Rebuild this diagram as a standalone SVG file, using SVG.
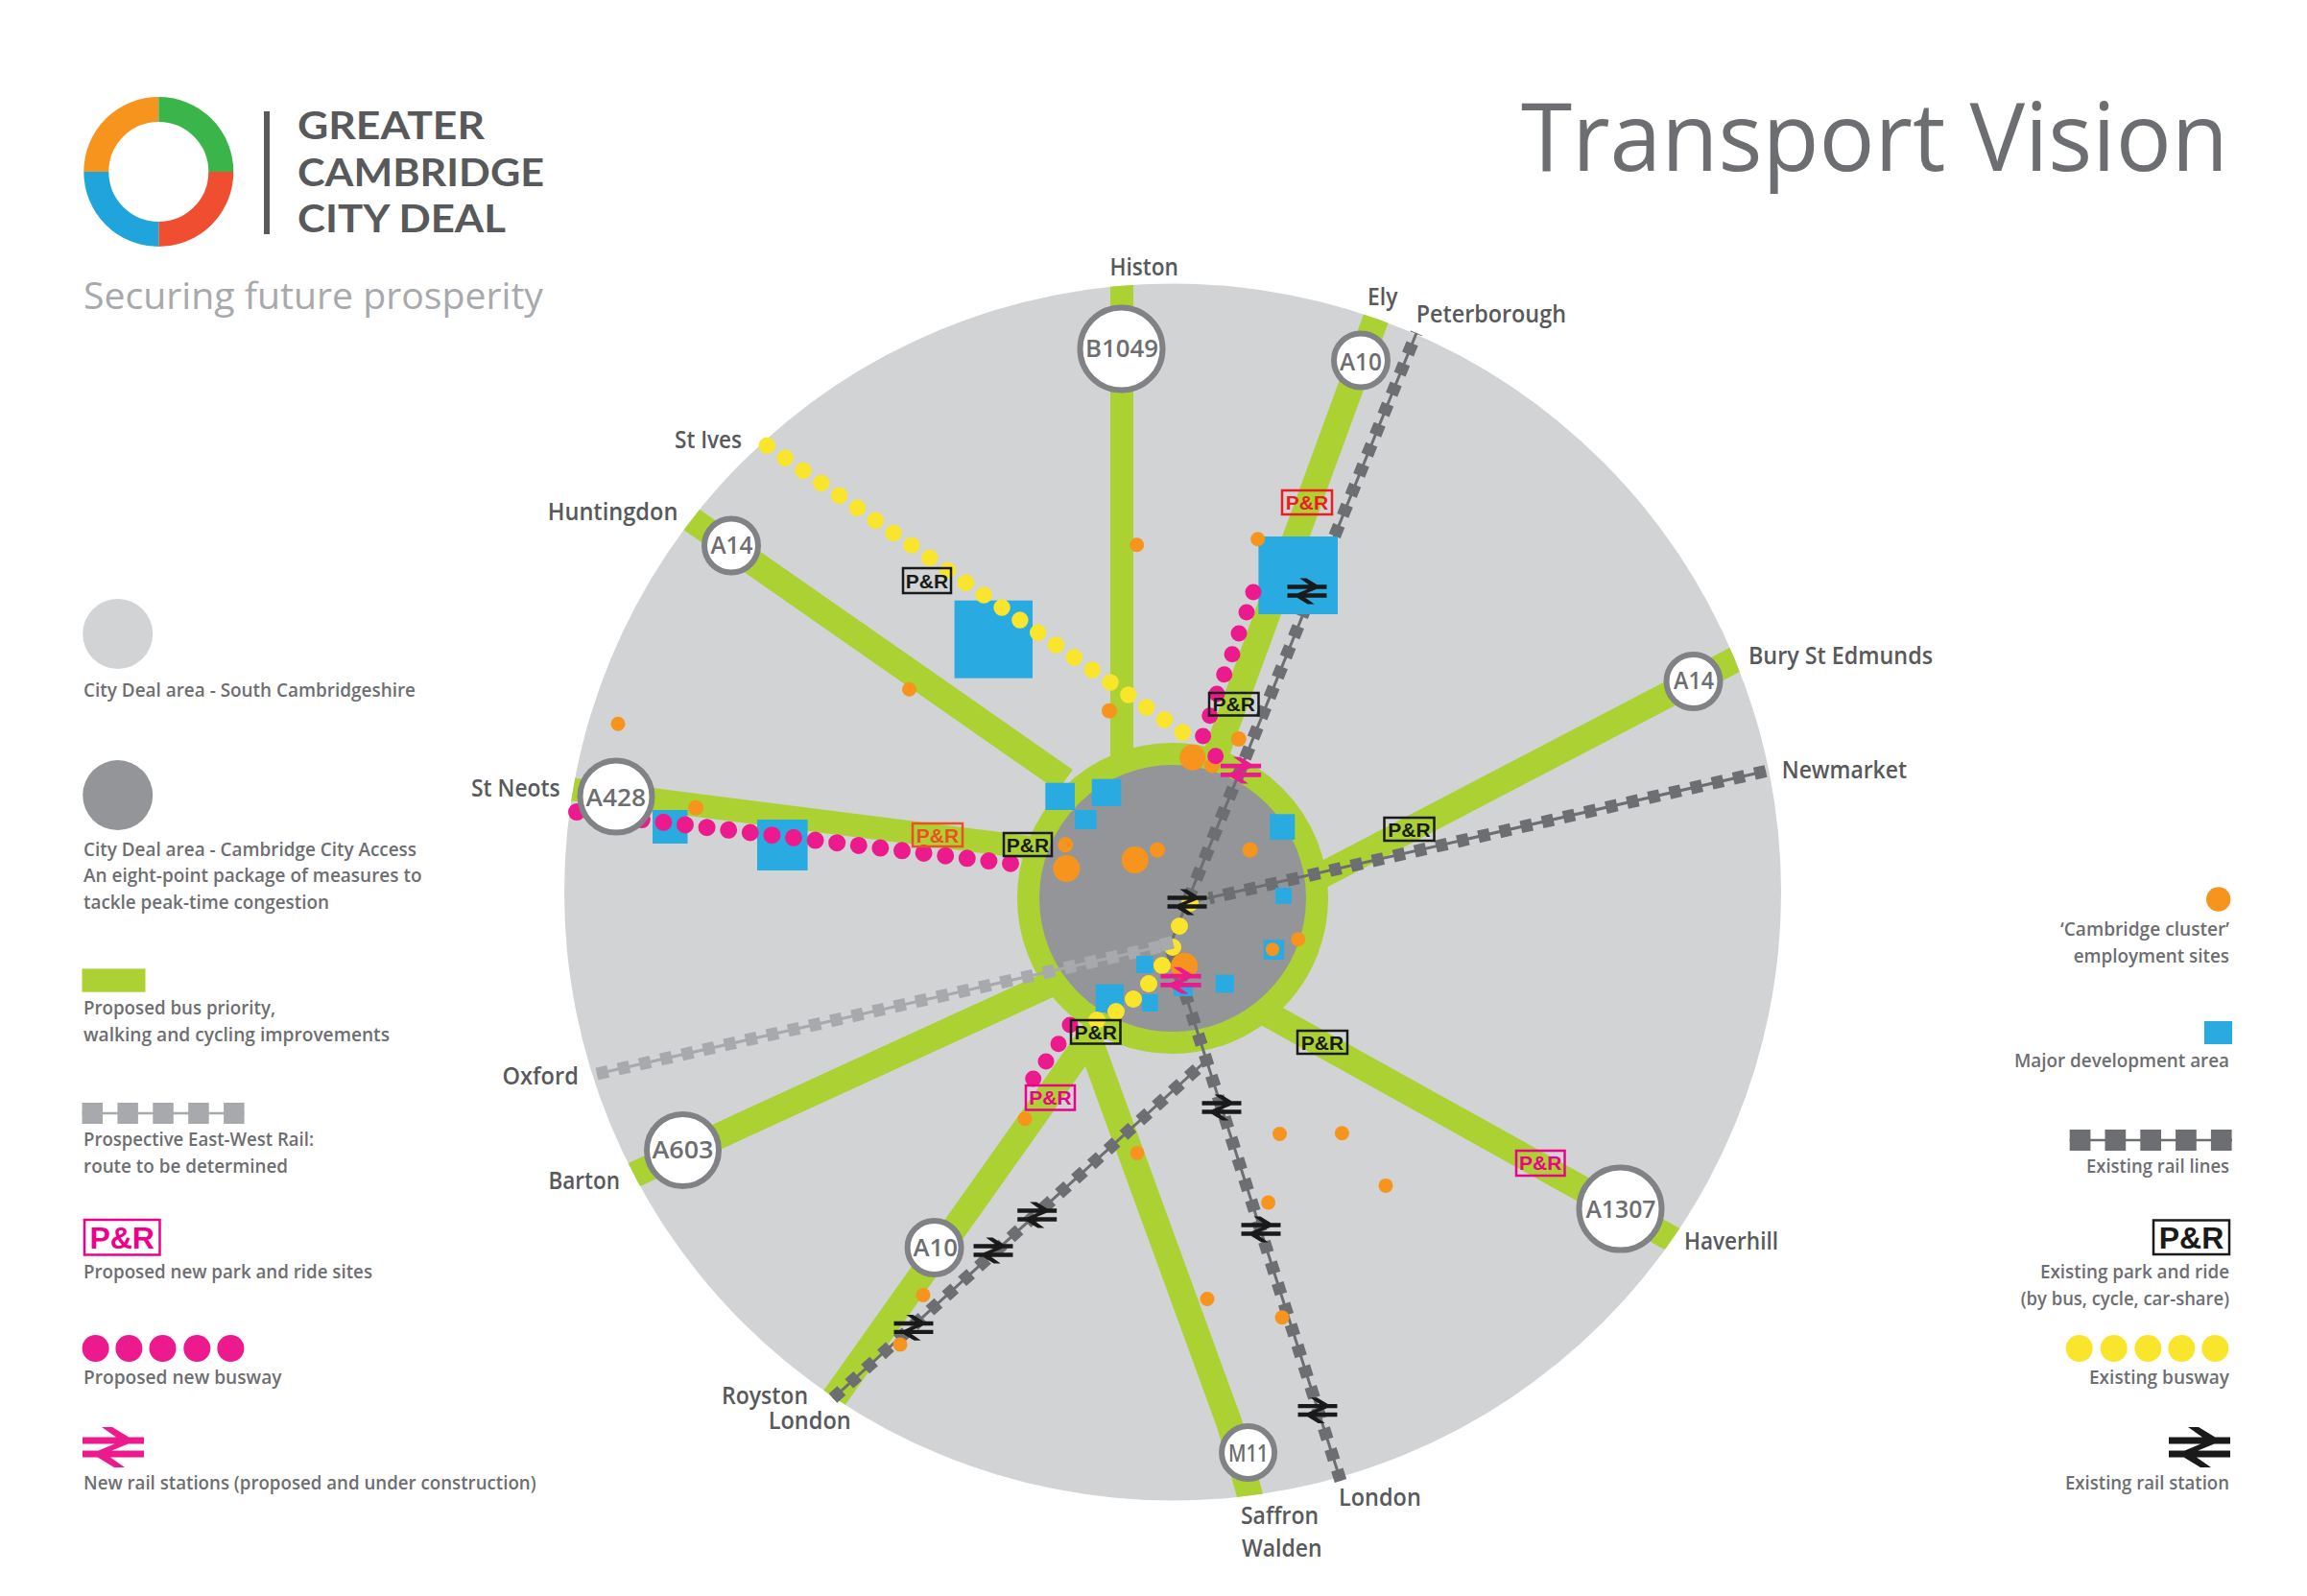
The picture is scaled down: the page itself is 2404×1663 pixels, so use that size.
<svg xmlns="http://www.w3.org/2000/svg" width="2404" height="1663" viewBox="0 0 2404 1663">
<style>
text{font-family:"Open Sans","Liberation Sans",sans-serif}
.l{font-size:25px;font-weight:600;fill:#58595b}
.k{font-size:20.5px;font-weight:600;fill:#6d6e71}
.rt{font-size:25px;font-weight:600;fill:#6d6e71}
.lg{font-family:Lato,"Open Sans",sans-serif;font-size:40px;font-weight:700;fill:#58595b}
.sp{fill:none;stroke:#abd133;stroke-width:27}
.sv{fill:none;stroke:#abd133;stroke-width:24}
.rl{fill:none;stroke:#6d6e71;stroke-width:3}
.rd{fill:none;stroke:#6d6e71;stroke-width:13;stroke-dasharray:12 10.7}
.ol{fill:none;stroke:#a7a9ac;stroke-width:3}
.od{fill:none;stroke:#a7a9ac;stroke-width:13;stroke-dasharray:12 10.7}
.yb{fill:none;stroke:#f9e62c;stroke-width:17.5;stroke-linecap:round;stroke-dasharray:0 22.87}
.pb{fill:none;stroke:#ec1a8d;stroke-width:18;stroke-linecap:round;stroke-dasharray:0 22.76}
.y{fill:#f9e62c}.p{fill:#ec1a8d}.o{fill:#f7941e}.b{fill:#29abe2}
.road{fill:#fff;stroke:#808285;stroke-width:6}
.pr{fill:none;stroke-width:2.5}
.prt{font-family:"Liberation Sans",Arial,sans-serif;font-size:21px;font-weight:700;text-anchor:middle}
.prl{font-family:"Liberation Sans",Arial,sans-serif;font-size:32px;font-weight:700;text-anchor:middle}
.bk rect{stroke:#1a1a1a}.bk text{fill:#1a1a1a}
.rd2 rect{stroke:#ed1c24}.rd2 text{fill:#ed1c24}
.or rect{stroke:#f04e23}.or text{fill:#f04e23}
.pk rect{stroke:#ec008c}.pk text{fill:#ec008c}
</style>
<defs>
<clipPath id="rim"><circle cx="1222" cy="929.5" r="634"/></clipPath>
<path id="br" d="M-32-10.5H32V-3.5H-32ZM-32 3.5H32V10.5H-32ZM-12-21H-1L22-7H8ZM10-7H24L-10 7H-24ZM-22 7H-8L12 21H1Z"/>
</defs>
<rect width="2404" height="1663" fill="#fff"/>

<g id="logo">
<path d="M165.3 114A65 65 0 0 0 100.3 179" fill="none" stroke="#f7941e" stroke-width="26"/>
<path d="M165.3 114A65 65 0 0 1 230.3 179" fill="none" stroke="#39b54a" stroke-width="26"/>
<path d="M230.3 179A65 65 0 0 1 165.3 244" fill="none" stroke="#f04e30" stroke-width="26"/>
<path d="M165.3 244A65 65 0 0 1 100.3 179" fill="none" stroke="#1fa5dc" stroke-width="26"/>
<rect x="275" y="116" width="6" height="128" fill="#58595b"/>
<text class="lg" x="310" y="145" textLength="195" lengthAdjust="spacingAndGlyphs">GREATER</text>
<text class="lg" x="310" y="194" textLength="257" lengthAdjust="spacingAndGlyphs">CAMBRIDGE</text>
<text class="lg" x="310" y="242" textLength="217" lengthAdjust="spacingAndGlyphs">CITY DEAL</text>
<text x="87" y="322" font-size="39" fill="#a7a9ac" textLength="479" lengthAdjust="spacingAndGlyphs">Securing future prosperity</text>
</g>
<text id="title" x="1585" y="178" font-size="98" font-weight="500" fill="#6d6e71" textLength="737" lengthAdjust="spacingAndGlyphs">Transport Vision</text>

<circle id="area-south" cx="1222" cy="929.5" r="634" fill="#d1d3d4"/>

<g id="connectors">
<g id="bus-priority" clip-path="url(#rim)">
<path class="sv" d="M1169 290V805"/>
<path class="sp" d="M1440 315L1262 800"/>
<path class="sp" d="M710 534L1110 813"/>
<path class="sv" d="M585 821L1095 886"/>
<path class="sp" d="M650 1229L1115 1016"/>
<path class="sp" d="M862 1467L1140 1075"/>
<path class="sp" d="M1306 1570L1281 1483L1134 1080"/>
<path class="sp" d="M1755 1298L1300 1045"/>
<path class="sp" d="M1820 681L1370 916"/>
</g>
<circle id="ring" cx="1222" cy="936" r="150.5" fill="#939598" stroke="#abd133" stroke-width="23"/>
<g id="rail-existing">
<path class="rl" d="M1476 347L1237 940L1219 985L1397 1543"/>
<path class="rd" style="stroke-dashoffset:-11.7" d="M1476 347L1237 940"/>
<path class="rd" d="M1397 1543L1219 985"/>
<path class="rl" d="M1840 803.5L1240 940"/>
<path class="rd" d="M1840 803.5L1260 936"/>
<path class="rl" d="M868 1457L1257 1105"/>
<path class="rd" d="M868 1457L1257 1105"/>
</g>
<g id="rail-east-west">
<path class="ol" d="M622 1119L1219 984"/>
<path class="od" d="M622 1119L1219 984"/>
</g>
</g>

<g id="development-areas">
<rect class="b" x="994.6" y="625.7" width="81.4" height="81"/>
<rect class="b" x="1311.4" y="559" width="82.6" height="81"/>
<rect class="b" x="680" y="844" width="36.5" height="35"/>
<rect class="b" x="789" y="854" width="52.6" height="53"/>
<rect class="b" x="1089.3" y="815.7" width="30.7" height="28.3"/>
<rect class="b" x="1137.7" y="811.7" width="30.6" height="28.3"/>
<rect class="b" x="1120" y="844" width="22.7" height="20"/>
<rect class="b" x="1323.3" y="848.3" width="26" height="26.7"/>
<rect class="b" x="1329" y="925" width="17" height="16.7"/>
<rect class="b" x="1184" y="996" width="17.7" height="18"/>
<rect class="b" x="1141.7" y="1025.7" width="29.3" height="29.3"/>
<rect class="b" x="1190" y="1036" width="16.7" height="18"/>
<rect class="b" x="1223" y="1025" width="20" height="13"/>
<rect class="b" x="1266.7" y="1015.7" width="19.3" height="18.6"/>
<rect class="b" x="1316.7" y="979.3" width="21.6" height="20.7"/>
</g>

<g id="employment-sites" class="o">
<circle cx="1156" cy="740.7" r="8"/><circle cx="1242.7" cy="789.3" r="13.5"/><circle cx="1263" cy="797.7" r="8"/>
<circle cx="1290.7" cy="770" r="8"/><circle cx="1110.3" cy="880.3" r="8"/><circle cx="1111.3" cy="905" r="14"/>
<circle cx="1182.7" cy="896" r="14"/><circle cx="1206" cy="885.7" r="8"/><circle cx="1302.7" cy="885.7" r="8"/>
<circle cx="1326" cy="989.3" r="7"/><circle cx="1352.7" cy="978.7" r="7.5"/><circle cx="1234" cy="1006.7" r="14"/>
<circle cx="947.5" cy="718.3" r="7.5"/><circle cx="644" cy="754.3" r="7.5"/><circle cx="1184.6" cy="567.7" r="7.5"/>
<circle cx="1310.7" cy="561.7" r="7.5"/><circle cx="1068" cy="1165.7" r="7.5"/><circle cx="1185" cy="1201.4" r="7.5"/>
<circle cx="962" cy="1349.4" r="7.5"/><circle cx="938" cy="1401" r="7.5"/><circle cx="1258" cy="1353.5" r="7.5"/>
<circle cx="1333.5" cy="1181.5" r="7.5"/><circle cx="1398.4" cy="1180.8" r="7.5"/><circle cx="1444" cy="1235.4" r="7.5"/>
<circle cx="1321.6" cy="1253" r="7.5"/><circle cx="1336" cy="1372.7" r="7.5"/><circle cx="725" cy="841.7" r="8"/>
</g>

<g id="busways">
<path class="yb" d="M799.3 464.3L1245 771.7"/>
<g class="y">
<circle cx="1240" cy="941" r="9"/><circle cx="1229" cy="965" r="9"/><circle cx="1222" cy="987" r="9"/><circle cx="1211" cy="1006" r="9"/>
<circle cx="1197" cy="1025" r="9"/><circle cx="1181" cy="1041" r="9"/><circle cx="1163" cy="1054" r="9"/><circle cx="1143" cy="1063" r="9"/>
</g>
<rect x="1209" y="976.5" width="13.5" height="13.5" fill="#a7a9ac" transform="rotate(-13 1216 983)"/>
<path class="pb" d="M1053 899.7L599 845.8"/>
<g class="p">
<circle cx="1306" cy="617" r="8.5"/><circle cx="1299" cy="638" r="8.5"/><circle cx="1291" cy="660" r="8.5"/><circle cx="1284" cy="681.7" r="8.5"/>
<circle cx="1275.7" cy="702.7" r="8.5"/><circle cx="1268" cy="723" r="8.5"/><circle cx="1260.7" cy="745.7" r="8.5"/><circle cx="1253.6" cy="767" r="8.5"/>
<circle cx="1266.7" cy="787.7" r="8.5"/>
<circle cx="1115" cy="1068" r="8.5"/><circle cx="1103" cy="1087.7" r="8.5"/><circle cx="1090" cy="1106" r="8.5"/><circle cx="1076.7" cy="1124" r="8.5"/>
</g>
</g>

<g id="stations">
<use href="#br" fill="#ec1a8d" transform="translate(1293 802.7) scale(.66)"/>
<use href="#br" fill="#ec1a8d" transform="translate(1230.5 1021.7) scale(.66)"/>
<use href="#br" fill="#1a1a1a" transform="translate(1237 940) scale(.64)"/>
<use href="#br" fill="#1a1a1a" transform="translate(1362 616) scale(.64)"/>
<use href="#br" fill="#1a1a1a" transform="translate(1273 1154) scale(.64)"/>
<use href="#br" fill="#1a1a1a" transform="translate(1314 1281) scale(.64)"/>
<use href="#br" fill="#1a1a1a" transform="translate(1373 1469.6) scale(.64)"/>
<use href="#br" fill="#1a1a1a" transform="translate(1080.7 1266) scale(.64)"/>
<use href="#br" fill="#1a1a1a" transform="translate(1035 1303) scale(.64)"/>
<use href="#br" fill="#1a1a1a" transform="translate(952 1383.4) scale(.64)"/>
</g>

<g id="pr-1" class="bk"><rect class="pr" x="941" y="592" width="50" height="26"/><text class="prt" x="966" y="612.5">P&amp;R</text></g>
<g id="pr-2" class="rd2"><rect class="pr" x="1336" y="511" width="52" height="25"/><text class="prt" x="1362" y="531">P&amp;R</text></g>
<g id="pr-3" class="bk"><rect class="pr" x="1260" y="722" width="51.5" height="23.5"/><text class="prt" x="1285.7" y="741">P&amp;R</text></g>
<g id="pr-4" class="or"><rect class="pr" x="951" y="858" width="52" height="24"/><text class="prt" x="977" y="877.5">P&amp;R</text></g>
<g id="pr-5" class="bk"><rect class="pr" x="1046" y="868" width="50" height="24"/><text class="prt" x="1071" y="887.5">P&amp;R</text></g>
<g id="pr-6" class="bk"><rect class="pr" x="1442.5" y="852" width="52" height="24"/><text class="prt" x="1468.5" y="871.5">P&amp;R</text></g>
<g id="pr-7" class="bk"><rect class="pr" x="1116" y="1063" width="51.5" height="24.5"/><text class="prt" x="1141.7" y="1082.5">P&amp;R</text></g>
<g id="pr-8" class="pk"><rect class="pr" x="1069" y="1131" width="51" height="25.5"/><text class="prt" x="1094.5" y="1151">P&amp;R</text></g>
<g id="pr-9" class="bk"><rect class="pr" x="1352" y="1074" width="52" height="24"/><text class="prt" x="1378" y="1093.5">P&amp;R</text></g>
<g id="pr-10" class="pk"><rect class="pr" x="1580" y="1199" width="50.5" height="26"/><text class="prt" x="1605.2" y="1219">P&amp;R</text></g>

<g id="road-b1049"><circle class="road" cx="1168.5" cy="363.5" r="43"/><text class="rt" x="1131" y="371.7" textLength="76" lengthAdjust="spacingAndGlyphs">B1049</text></g>
<g id="road-a10-north"><circle class="road" cx="1418" cy="375.5" r="28"/><text class="rt" x="1396" y="385.7" textLength="44" lengthAdjust="spacingAndGlyphs">A10</text></g>
<g id="road-a14-west"><circle class="road" cx="762" cy="568.5" r="28"/><text class="rt" x="740.5" y="577.3" textLength="44" lengthAdjust="spacingAndGlyphs">A14</text></g>
<g id="road-a14-east"><circle class="road" cx="1764.5" cy="710" r="28"/><text class="rt" x="1744" y="718" textLength="42" lengthAdjust="spacingAndGlyphs">A14</text></g>
<g id="road-a428"><circle class="road" cx="642" cy="830" r="37.5"/><text class="rt" x="610.5" y="840" textLength="62.5" lengthAdjust="spacingAndGlyphs">A428</text></g>
<g id="road-a603"><circle class="road" cx="711.5" cy="1198.5" r="37.5"/><text class="rt" x="679.5" y="1206.7" textLength="64" lengthAdjust="spacingAndGlyphs">A603</text></g>
<g id="road-a10-south"><circle class="road" cx="973.6" cy="1300" r="28"/><text class="rt" x="951.5" y="1308.6" textLength="46.5" lengthAdjust="spacingAndGlyphs">A10</text></g>
<g id="road-m11"><circle class="road" cx="1300.6" cy="1513.5" r="27.5"/><text class="rt" x="1280" y="1522.7" textLength="41.5" lengthAdjust="spacingAndGlyphs">M11</text></g>
<g id="road-a1307"><circle class="road" cx="1688.5" cy="1259.6" r="43"/><text class="rt" x="1652.5" y="1269" textLength="73" lengthAdjust="spacingAndGlyphs">A1307</text></g>

<g id="place-labels">
<text class="l" x="703" y="467.3" textLength="70" lengthAdjust="spacingAndGlyphs">St Ives</text>
<text class="l" x="570.7" y="541.7" textLength="135.7" lengthAdjust="spacingAndGlyphs">Huntingdon</text>
<text class="l" x="1156.4" y="286.7" textLength="71.5" lengthAdjust="spacingAndGlyphs">Histon</text>
<text class="l" x="1425" y="318.3" textLength="31.4" lengthAdjust="spacingAndGlyphs">Ely</text>
<text class="l" x="1475.7" y="335.7" textLength="156.3" lengthAdjust="spacingAndGlyphs">Peterborough</text>
<text class="l" x="491" y="830" textLength="92.7" lengthAdjust="spacingAndGlyphs">St Neots</text>
<text class="l" x="523.6" y="1130" textLength="79.2" lengthAdjust="spacingAndGlyphs">Oxford</text>
<text class="l" x="571.4" y="1239.3" textLength="74.6" lengthAdjust="spacingAndGlyphs">Barton</text>
<text class="l" x="752" y="1462.6" textLength="90" lengthAdjust="spacingAndGlyphs">Royston</text>
<text class="l" x="800.7" y="1488.8" textLength="86" lengthAdjust="spacingAndGlyphs">London</text>
<text class="l" x="1395" y="1568.8" textLength="85.8" lengthAdjust="spacingAndGlyphs">London</text>
<text class="l" x="1293" y="1588" textLength="81" lengthAdjust="spacingAndGlyphs">Saffron</text>
<text class="l" x="1294" y="1621.5" textLength="83.6" lengthAdjust="spacingAndGlyphs">Walden</text>
<text class="l" x="1755" y="1302" textLength="98" lengthAdjust="spacingAndGlyphs">Haverhill</text>
<text class="l" x="1822" y="692.3" textLength="192" lengthAdjust="spacingAndGlyphs">Bury St Edmunds</text>
<text class="l" x="1856.7" y="811" textLength="130.3" lengthAdjust="spacingAndGlyphs">Newmarket</text>
</g>

<g id="legend-left">
<circle cx="122.7" cy="660.5" r="36.5" fill="#d1d3d4"/>
<text class="k" x="87" y="725.5" textLength="346" lengthAdjust="spacingAndGlyphs">City Deal area - South Cambridgeshire</text>
<circle cx="122.7" cy="828.6" r="36.5" fill="#939598"/>
<text class="k" x="87" y="892.4" textLength="347" lengthAdjust="spacingAndGlyphs">City Deal area - Cambridge City Access</text>
<text class="k" x="87" y="919.4" textLength="352.5" lengthAdjust="spacingAndGlyphs">An eight-point package of measures to</text>
<text class="k" x="87" y="946.8" textLength="256" lengthAdjust="spacingAndGlyphs">tackle peak-time congestion</text>
<rect x="85.5" y="1009.4" width="66" height="24.3" fill="#abd133"/>
<text class="k" x="87" y="1057" textLength="200" lengthAdjust="spacingAndGlyphs">Proposed bus priority,</text>
<text class="k" x="87" y="1084.5" textLength="319" lengthAdjust="spacingAndGlyphs">walking and cycling improvements</text>
<path d="M85.5 1160H254.5" stroke="#a7a9ac" stroke-width="2.5"/>
<path d="M85.5 1160H254.6" stroke="#a7a9ac" stroke-width="22" stroke-dasharray="21.5 15.4"/>
<text class="k" x="87" y="1194" textLength="240" lengthAdjust="spacingAndGlyphs">Prospective East-West Rail:</text>
<text class="k" x="87" y="1221.5" textLength="213" lengthAdjust="spacingAndGlyphs">route to be determined</text>
<rect x="88" y="1271" width="78.5" height="36.5" fill="none" stroke="#ec008c" stroke-width="2.5"/>
<g class="pk"><text class="prl" x="127.2" y="1301">P&amp;R</text></g>
<text class="k" x="87" y="1331.5" textLength="301" lengthAdjust="spacingAndGlyphs">Proposed new park and ride sites</text>
<g class="p"><circle cx="99.6" cy="1405" r="14"/><circle cx="134.4" cy="1405" r="14"/><circle cx="169.5" cy="1405" r="14"/><circle cx="205.3" cy="1405" r="14"/><circle cx="240.4" cy="1405" r="14"/></g>
<text class="k" x="87" y="1441.5" textLength="206.5" lengthAdjust="spacingAndGlyphs">Proposed new busway</text>
<use href="#br" fill="#ec1a8d" transform="translate(118 1508)"/>
<text class="k" x="87" y="1551.5" textLength="471.6" lengthAdjust="spacingAndGlyphs">New rail stations (proposed and under construction)</text>
</g>

<g id="legend-right">
<circle class="o" cx="2311.7" cy="937" r="12.7"/>
<text class="k" x="2147" y="975" textLength="176" lengthAdjust="spacingAndGlyphs">‘Cambridge cluster’</text>
<text class="k" x="2160.7" y="1002.7" textLength="162.3" lengthAdjust="spacingAndGlyphs">employment sites</text>
<rect class="b" x="2297" y="1064" width="29" height="24"/>
<text class="k" x="2099" y="1112" textLength="224" lengthAdjust="spacingAndGlyphs">Major development area</text>
<path d="M2156.7 1188H2326" stroke="#6d6e71" stroke-width="2.5"/>
<path d="M2156.7 1188H2326" stroke="#6d6e71" stroke-width="22" stroke-dasharray="21.7 15.1"/>
<text class="k" x="2174" y="1221.8" textLength="149" lengthAdjust="spacingAndGlyphs">Existing rail lines</text>
<rect x="2244" y="1271.5" width="79" height="35.5" fill="none" stroke="#1a1a1a" stroke-width="2.5"/>
<g class="bk"><text class="prl" x="2283.5" y="1301">P&amp;R</text></g>
<text class="k" x="2126" y="1331.7" textLength="197" lengthAdjust="spacingAndGlyphs">Existing park and ride</text>
<text class="k" x="2105.7" y="1359.8" textLength="217.3" lengthAdjust="spacingAndGlyphs">(by bus, cycle, car-share)</text>
<g class="y"><circle cx="2166.7" cy="1405" r="14"/><circle cx="2202.7" cy="1405" r="14"/><circle cx="2238.3" cy="1405" r="14"/><circle cx="2273.3" cy="1405" r="14"/><circle cx="2308.3" cy="1405" r="14"/></g>
<text class="k" x="2177" y="1442" textLength="146" lengthAdjust="spacingAndGlyphs">Existing busway</text>
<use href="#br" fill="#1a1a1a" transform="translate(2292 1508)"/>
<text class="k" x="2152" y="1551.8" textLength="171" lengthAdjust="spacingAndGlyphs">Existing rail station</text>
</g>
</svg>
